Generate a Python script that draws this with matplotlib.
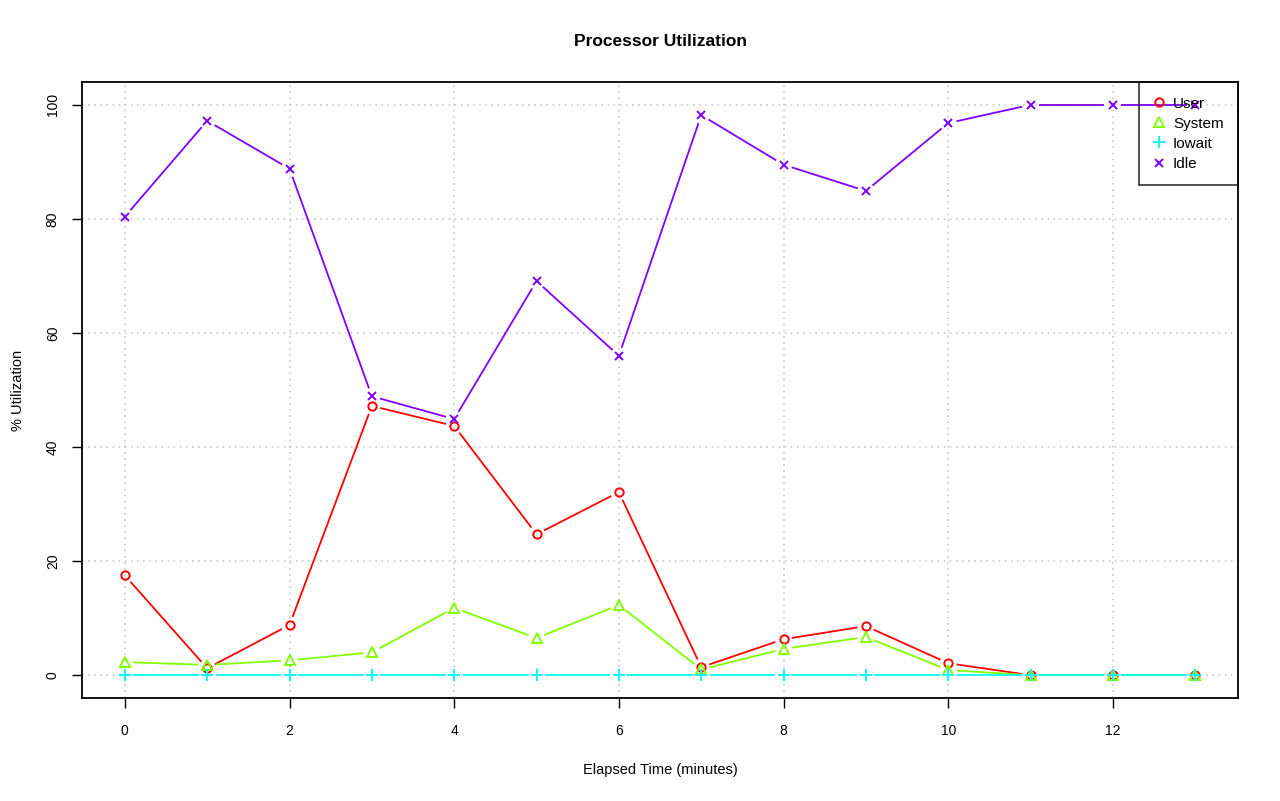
import numpy as np
import matplotlib
matplotlib.use("Agg")
import matplotlib.pyplot as plt
from matplotlib.lines import Line2D

plt.rcParams['font.family'] = ['Liberation Sans', 'DejaVu Sans']

minutes = list(range(14))
user = [17.5, 1.2, 8.8, 47.2, 43.7, 24.7, 32.1, 1.4, 6.3, 8.6, 2.1, 0, 0, 0]
system = [2.3, 1.8, 2.6, 4.0, 11.8, 6.5, 12.3, 1.0, 4.6, 6.7, 0.9, 0, 0, 0]
iowait = [0] * 14
idle = [80.4, 97.2, 88.8, 48.9, 44.9, 69.1, 56.0, 98.2, 89.5, 84.9, 96.8, 100, 100, 100]

series = [
    ("User", user, "#ff0000", "o", 6),
    ("System", system, "#80ff00", "^", 7),
    ("Iowait", iowait, "#00ffff", "+", 8.5),
    ("Idle", idle, "#8000ff", "x", 6),
]

fig = plt.figure(figsize=(12.8, 8.01), dpi=100)
ax = fig.add_axes([0.0641, 0.1286, 0.9031, 0.769])
ax.set_xlim(-0.52, 13.52)
ax.set_ylim(-4, 104)

GAP = 8.5  # pixels left empty around each point, like R type="b"


def gap_line(xs, ys, color):
    pts = ax.transData.transform(np.column_stack([xs, ys]))
    inv = ax.transData.inverted()
    for p, q in zip(pts[:-1], pts[1:]):
        d = q - p
        n = np.hypot(*d)
        if n <= 2 * GAP:
            continue
        u = d / n
        a, b = inv.transform([p + u * GAP, q - u * GAP])
        ax.plot([a[0], b[0]], [a[1], b[1]], color=color, lw=1.3, zorder=3,
                solid_capstyle='butt')


handles = []
for name, vals, col, mk, ms in series:
    gap_line(minutes, vals, col)
    style = dict(linestyle='none', marker=mk, markersize=ms, markerfacecolor='none',
                 markeredgecolor=col, markeredgewidth=1.4)
    ax.plot(minutes, vals, zorder=4, **style)
    handles.append(Line2D([], [], label=name, **style))

ax.set_xticks(range(0, 13, 2))
ax.set_yticks(range(0, 101, 20))
ax.grid(True, color='#c0c0c0', linestyle=(0, (1, 3)), linewidth=1.1)
ax.set_axisbelow(True)
ax.tick_params(direction='out', length=7, width=1, labelsize=10)
ax.tick_params(axis='x', pad=12)
ax.tick_params(axis='y', pad=9)
for lab in ax.get_yticklabels():
    lab.set_rotation(90)
    lab.set_va('center')
for s in ax.spines.values():
    s.set_linewidth(1.3)

ax.set_title("Processor Utilization", fontsize=12.5, fontweight='bold', pad=26)
ax.set_xlabel("Elapsed Time (minutes)", fontsize=10.5, labelpad=18)
ax.set_ylabel("% Utilization", fontsize=10.5, labelpad=15)

leg = ax.legend(handles=handles, loc='upper right', bbox_to_anchor=(1, 1),
                borderaxespad=0, fontsize=11, fancybox=False,
                handletextpad=0.5, handlelength=0.8, labelspacing=0.4,
                borderpad=0.95)
frame = leg.get_frame()
frame.set_facecolor('none')
frame.set_edgecolor('black')
frame.set_linewidth(1.2)

fig.savefig("out.png", dpi=100)
